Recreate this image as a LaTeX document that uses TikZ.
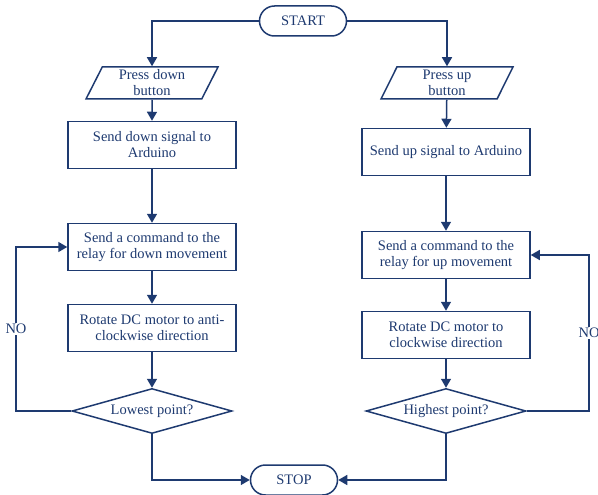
\documentclass[tikz,border=0pt]{standalone}
\usepackage{fontspec}
\setmainfont{Liberation Serif}
\usetikzlibrary{arrows.meta,positioning,shapes.geometric}
\definecolor{flowblue}{RGB}{30,58,112}

\begin{document}
\begin{tikzpicture}[x=1pt,y=-1pt,
  every node/.style={text=flowblue,font=\fontsize{14.5}{16}\selectfont},
  term/.style={draw=flowblue,line width=1.5pt,rounded corners=15pt,minimum width=87pt,minimum height=30pt},
  io/.style={draw=flowblue,line width=1.5pt,trapezium,trapezium left angle=60,trapezium right angle=120,trapezium stretches body,minimum width=132pt,minimum height=32pt,align=center,inner sep=1pt},
  proc/.style={draw=flowblue,line width=1.5pt,minimum width=168pt,minimum height=47pt,align=center},
  dec/.style={draw=flowblue,line width=1.5pt,diamond,aspect=3.5,minimum width=160pt,minimum height=45pt,inner sep=0pt},
  flow/.style={draw=flowblue,line width=1.5pt,-{Triangle[length=9pt,width=10pt]}}]
\useasboundingbox (0,0) rectangle (598,495);
\node[term] (start) at (303,21) {START};
\node[io] (pdown) at (152,83) {Press down\\button};
\node[io] (pup) at (447,83) {Press up\\button};
\node[proc] (sdown) at (152,145) {Send down signal to\\Arduino};
\node[proc] (sup) at (446,152) {Send up signal to Arduino};
\node[proc] (cmdd) at (152,247) {Send a command to the\\relay for down movement};
\node[proc] (cmdu) at (446,255) {Send a command to the\\relay for up movement};
\node[proc] (rotd) at (152,328) {Rotate DC motor to anti-\\clockwise direction};
\node[proc] (rotu) at (446,335) {Rotate DC motor to\\clockwise direction};
\node[dec] (low) at (152,411) {Lowest point?};
\node[dec] (high) at (446,411) {Highest point?};
\node[term] (stop) at (294,480) {STOP};
\coordinate (nol) at (16,411);
\coordinate (nor) at (589,411);

\draw[flow] (start.west) -| (pdown.north);
\draw[flow] (start.east) -| (pup.north);
\draw[flow] (pdown) -- (sdown);
\draw[flow] (pup) -- (sup);
\draw[flow] (sdown) -- (cmdd);
\draw[flow] (sup) -- (cmdu);
\draw[flow] (cmdd) -- (rotd);
\draw[flow] (cmdu) -- (rotu);
\draw[flow] (rotd) -- (low);
\draw[flow] (rotu) -- (high);
\draw[flow] (low.west) -- (nol) |- node[pos=0.25,fill=white,inner sep=1pt] {NO} (cmdd.west);
\draw[flow] (high.east) -- (nor) |- node[pos=0.25,fill=white,inner sep=1pt] {NO} (cmdu.east);
\draw[flow] (low.south) |- (stop.west);
\draw[flow] (high.south) |- (stop.east);
\end{tikzpicture}
\end{document}
